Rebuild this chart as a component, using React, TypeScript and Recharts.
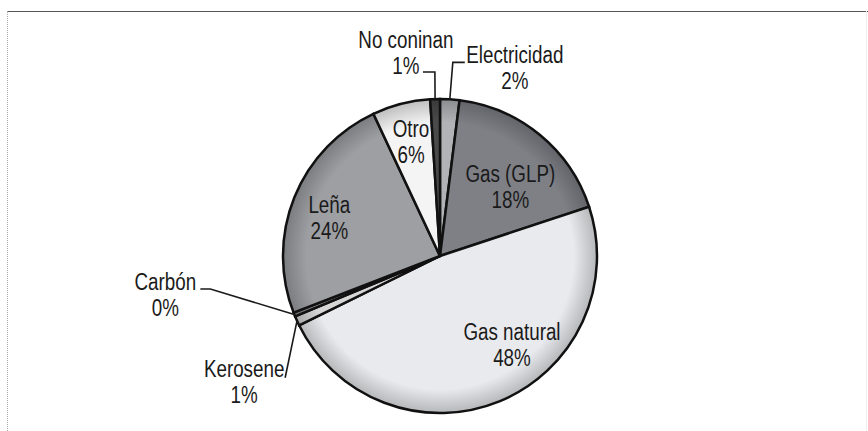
import React from "react";
import { PieChart, Pie, Cell } from "recharts";

const categories = [
  "Electricidad",
  "Gas (GLP)",
  "Gas natural",
  "Kerosene",
  "Carbón",
  "Leña",
  "Otro",
  "No coninan",
];
const shares = [2, 18, 48, 1, 0.4, 24, 6, 1];
const shareLabels = ["2%", "18%", "48%", "1%", "0%", "24%", "6%", "1%"];

const data = categories.map((name, i) => ({
  name,
  value: shares[i],
  label: shareLabels[i],
}));

const fills = [
  "#b2b3b6",
  "#7e8086",
  "#e9eaed",
  "#d6d6d6",
  "#8a8a8a",
  "#9d9fa3",
  "#f4f4f4",
  "#4a4a4a",
];

// label placement: angle offset from slice middle (deg, clockwise), radius,
// and for outside labels an elbow, a horizontal run and the text offset
type Spot = {
  inside: boolean;
  da: number;
  r: number;
  run?: number;
  tx?: number;
  ty?: number;
};
const spots: Spot[] = [
  { inside: false, da: 0.2, r: 194, run: 12, tx: 50, ty: 5.5 },
  { inside: true, da: 6.4, r: 98 },
  { inside: true, da: -16.5, r: 115 },
  { inside: false, da: -13.8, r: 197, run: 0, tx: -41, ty: 4.5 },
  { inside: false, da: 13.7, r: 232, run: -10, tx: -35, ty: 6 },
  { inside: true, da: -3, r: 117 },
  { inside: true, da: 0, r: 117 },
  { inside: false, da: 0.2, r: 184, run: -12, tx: -17, ty: -18.5 },
];

const FONT = "'Liberation Sans', Arial, sans-serif";
const RAD = Math.PI / 180;
const LINE = 26;

const darken = (hex: string, k: number) => {
  const n = parseInt(hex.slice(1), 16);
  const r = Math.round(((n >> 16) & 255) * k);
  const g = Math.round(((n >> 8) & 255) * k);
  const b = Math.round((n & 255) * k);
  return `rgb(${r},${g},${b})`;
};

// narrow (condensed) two-line label
const TwoLines = ({ x, y, a, b }: { x: number; y: number; a: string; b: string }) => (
  <g transform={`translate(${x},${y}) scale(0.8,1)`}>
    <text x={0} y={-LINE / 2} textAnchor="middle" dominantBaseline="central" fontSize={23.5} fontFamily={FONT} fill="#1a1a1a">
      {a}
    </text>
    <text x={0} y={LINE / 2} textAnchor="middle" dominantBaseline="central" fontSize={23.5} fontFamily={FONT} fill="#1a1a1a">
      {b}
    </text>
  </g>
);

const renderLabel = (p: any) => {
  const { cx, cy, midAngle, outerRadius, index } = p;
  const s = spots[index];
  const a0 = 90 - midAngle;
  const pt = (r: number, a: number) => [
    cx + r * Math.sin(a * RAD),
    cy - r * Math.cos(a * RAD),
  ];
  const name = data[index].name;
  const pct = data[index].label;
  if (s.inside) {
    const [x, y] = pt(s.r, a0 + s.da);
    return (
      <g key={`l${index}`}>
        <TwoLines x={x} y={y} a={name} b={pct} />
      </g>
    );
  }
  const [sx, sy] = pt(outerRadius, a0);
  const [ex, ey] = pt(s.r, a0 + s.da);
  const fx = ex + (s.run || 0);
  return (
    <g key={`l${index}`}>
      <polyline
        points={`${sx},${sy} ${ex},${ey} ${fx},${ey}`}
        fill="none"
        stroke="#1a1a1a"
        strokeWidth={1.6}
      />
      <TwoLines x={fx + (s.tx || 0)} y={ey + (s.ty || 0)} a={name} b={pct} />
    </g>
  );
};

const App = () => {
  return (
    <div style={{ position: "absolute", left: 0, top: 0, width: 868, height: 431, background: "#fff" }}>
      <div style={{ position: "absolute", left: 7, top: 11, width: 861, height: 0, borderTop: "1.5px solid #555" }} />
      <div style={{ position: "absolute", left: 7, top: 11, width: 0, height: 420, borderLeft: "1px dotted #aaa" }} />
      <div style={{ position: "absolute", left: 866, top: 11, width: 0, height: 420, borderLeft: "1px solid #eee" }} />
      <svg width={0} height={0} style={{ position: "absolute" }}>
        <defs>
          {fills.map((c, i) => (
            <radialGradient key={i} id={`rim${i}`} gradientUnits="userSpaceOnUse" cx={440} cy={256} r={157}>
              <stop offset="0%" stopColor={c} />
              <stop offset="85%" stopColor={c} />
              <stop offset="100%" stopColor={darken(c, 0.78)} />
            </radialGradient>
          ))}
        </defs>
      </svg>
      <PieChart width={868} height={431} margin={{ top: 0, right: 0, bottom: 0, left: 0 }} style={{ position: "absolute", left: 0, top: 0 }}>
        <Pie
          data={data}
          dataKey="value"
          nameKey="name"
          cx={440}
          cy={256}
          outerRadius={157}
          startAngle={90}
          endAngle={-270}
          stroke="#111"
          strokeWidth={2.5}
          label={renderLabel}
          labelLine={false}
          isAnimationActive={false}
        >
          {data.map((d, i) => (
            <Cell key={d.name} fill={`url(#rim${i})`} />
          ))}
        </Pie>
      </PieChart>
    </div>
  );
};

export default App;
